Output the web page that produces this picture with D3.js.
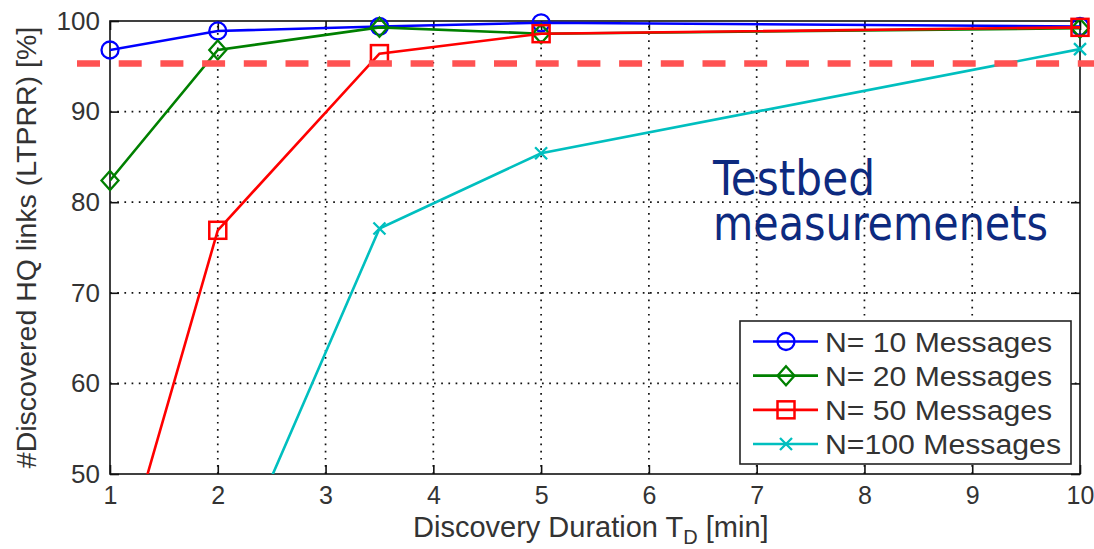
<!DOCTYPE html>
<html>
<head>
<meta charset="utf-8">
<script src="https://cdn.jsdelivr.net/npm/d3@7"></script>
<style>
  html, body { margin: 0; padding: 0; background: #fff; }
  svg { display: block; }
  text { font-family: "Liberation Sans", Arial, sans-serif; }
</style>
</head>
<body>
<svg id="chart" width="1094" height="549"></svg>
<script>
// Discovery duration (minutes) at which each run was measured
const durations = [1, 2, 3.5, 5, 10];

// Discovered high-quality links (LTPRR, %) per message count
const n10  = [96.8, 98.9, 99.4, 99.8, 99.4];
const n20  = [82.4, 96.8, 99.3, 98.6, 99.2];
const n50  = [35.6, 76.9, 96.4, 98.6, 99.3];
const n100 = [null, 36.0, 77.1, 85.4, 96.9];

const seriesNames = ["N= 10 Messages", "N= 20 Messages", "N= 50 Messages", "N=100 Messages"];
const seriesColors = ["#0000ff", "#008000", "#ff0000", "#00bfbf"];
const seriesMarkers = ["circle", "diamond", "square", "x"];

const threshold = 95.3;

const xTicks = [1, 2, 3, 4, 5, 6, 7, 8, 9, 10];
const yTicks = [50, 60, 70, 80, 90, 100];

const noteLines = ["Testbed", "measuremenets"];

const svg = d3.select("#chart");
const plot = { left: 110, top: 21, right: 1080, bottom: 474 };

const x = d3.scaleLinear().domain([1, 10]).range([plot.left, plot.right]);
const y = d3.scaleLinear().domain([50, 100]).range([plot.bottom, plot.top]);

// Clip region for the lines
svg.append("defs").append("clipPath").attr("id", "plotClip")
  .append("rect")
  .attr("x", plot.left).attr("y", plot.top)
  .attr("width", plot.right - plot.left).attr("height", plot.bottom - plot.top);

// Dotted grid
const grid = svg.append("g").attr("stroke", "#111").attr("stroke-width", 1.7)
  .attr("stroke-dasharray", "1.7,5.5");
grid.selectAll("line.gx").data(xTicks.slice(1, -1)).join("line")
  .attr("x1", d => x(d)).attr("x2", d => x(d))
  .attr("y1", plot.bottom).attr("y2", plot.top);
grid.selectAll("line.gy").data(yTicks.slice(1, -1)).join("line")
  .attr("y1", d => y(d)).attr("y2", d => y(d))
  .attr("x1", plot.left).attr("x2", plot.right);

// Axes with inward ticks on all four sides
const tickLen = 9;
const axisColor = "#111";
const bottomAxis = d3.axisBottom(x).tickValues(xTicks).tickSize(-tickLen).tickPadding(12).tickFormat(d3.format("d"));
const topAxis = d3.axisTop(x).tickValues(xTicks).tickSize(-tickLen).tickFormat("");
const leftAxis = d3.axisLeft(y).tickValues(yTicks).tickSize(-tickLen).tickPadding(10).tickFormat(d3.format("d"));
const rightAxis = d3.axisRight(y).tickValues(yTicks).tickSize(-tickLen).tickFormat("");

function styleAxis(g, size) {
  g.select(".domain").attr("stroke", axisColor).attr("stroke-width", 1.6);
  g.selectAll(".tick line").attr("stroke", axisColor).attr("stroke-width", 1.6);
  g.selectAll(".tick text").attr("fill", "#333").attr("font-size", size)
    .attr("font-family", "Liberation Sans, Arial, sans-serif");
}
svg.append("g").attr("transform", `translate(0,${plot.bottom})`).call(bottomAxis).call(styleAxis, 25);
svg.append("g").attr("transform", `translate(0,${plot.top})`).call(topAxis).call(styleAxis, 25);
svg.append("g").attr("transform", `translate(${plot.left},0)`).call(leftAxis).call(styleAxis, 26);
svg.append("g").attr("transform", `translate(${plot.right},0)`).call(rightAxis).call(styleAxis, 26);
svg.selectAll(".domain").attr("d", null);
svg.append("rect")
  .attr("x", plot.left).attr("y", plot.top)
  .attr("width", plot.right - plot.left).attr("height", plot.bottom - plot.top)
  .attr("fill", "none").attr("stroke", axisColor).attr("stroke-width", 1.6);

// Marker shapes
function drawMarker(g, kind, color, cx, cy) {
  const s = 8.5;
  if (kind === "circle") {
    g.append("circle").attr("cx", cx).attr("cy", cy).attr("r", s)
      .attr("fill", "none").attr("stroke", color).attr("stroke-width", 2.3);
  } else if (kind === "diamond") {
    g.append("path").attr("d", `M${cx},${cy - s - 1}L${cx + s},${cy}L${cx},${cy + s + 1}L${cx - s},${cy}Z`)
      .attr("fill", "none").attr("stroke", color).attr("stroke-width", 2.3);
  } else if (kind === "square") {
    g.append("rect").attr("x", cx - s).attr("y", cy - s).attr("width", 2 * s).attr("height", 2 * s)
      .attr("fill", "none").attr("stroke", color).attr("stroke-width", 2.5);
  } else {
    const h = 6;
    g.append("path").attr("d", `M${cx - h},${cy - h}L${cx + h},${cy + h}M${cx - h},${cy + h}L${cx + h},${cy - h}`)
      .attr("stroke", color).attr("stroke-width", 2.3);
  }
}

// Series lines and markers
const allSeries = [n10, n20, n50, n100];
const line = d3.line()
  .defined(d => d.v != null)
  .x(d => x(d.t)).y(d => y(d.v));

allSeries.forEach((vals, i) => {
  const pts = durations.map((t, k) => ({ t, v: vals[k] }));
  const g = svg.append("g");
  g.append("path").datum(pts)
    .attr("clip-path", "url(#plotClip)")
    .attr("d", line)
    .attr("fill", "none").attr("stroke", seriesColors[i]).attr("stroke-width", 2.6);
  pts.filter(p => p.v != null && p.v >= 50 && p.v <= 100)
    .forEach(p => drawMarker(g, seriesMarkers[i], seriesColors[i], x(p.t), y(p.v)));
});

// Target threshold line
svg.append("line")
  .attr("x1", 77).attr("x2", 1094)
  .attr("y1", y(threshold)).attr("y2", y(threshold))
  .attr("stroke", "#ff5252").attr("stroke-width", 6.5)
  .attr("stroke-dasharray", "23,18.7");

// Annotation, two lines in one text block
const noteFont = "DejaVu Sans Condensed, DejaVu Sans, sans-serif";
const note = svg.append("text").attr("x", 713).attr("y", 195)
  .attr("fill", "#0d2a7f").attr("font-size", 48).style("font-family", noteFont);
const noteWidths = [162, 335];
noteLines.forEach((t, i) => {
  note.append("tspan").attr("x", 713).attr("dy", i === 0 ? 0 : 45)
    .attr("textLength", noteWidths[i]).attr("lengthAdjust", "spacingAndGlyphs")
    .text(t);
});

// Legend
const legend = svg.append("g");
legend.append("rect")
  .attr("x", 740).attr("y", 321).attr("width", 331).attr("height", 143)
  .attr("fill", "#fff").attr("stroke", "#222").attr("stroke-width", 1.6);
const rowY = d3.scalePoint().domain(seriesNames).range([341.5, 444]);
seriesNames.forEach((name, i) => {
  const cy = rowY(name);
  legend.append("line").attr("x1", 753).attr("x2", 818).attr("y1", cy).attr("y2", cy)
    .attr("stroke", seriesColors[i]).attr("stroke-width", 2.6);
  drawMarker(legend, seriesMarkers[i], seriesColors[i], 786, cy);
  legend.append("text").attr("x", 825).attr("y", cy + 10)
    .attr("font-size", 27).attr("fill", "#333")
    .attr("textLength", i === 3 ? 236 : 227).attr("lengthAdjust", "spacingAndGlyphs")
    .text(name);
});

// Axis titles
const xTitle = svg.append("text")
  .attr("x", 413).attr("y", 537)
  .attr("font-size", 29).attr("fill", "#333");
xTitle.append("tspan").text("Discovery Duration T");
xTitle.append("tspan").attr("dy", 7).attr("font-size", 20).text("D");
xTitle.append("tspan").attr("dy", -7).text(" [min]");

svg.append("text")
  .attr("transform", `translate(36,${(25 + 470) / 2}) rotate(-90)`)
  .attr("text-anchor", "middle")
  .attr("font-size", 28.5).attr("fill", "#333")
  .text("#Discovered HQ links (LTPRR) [%]");
</script>
</body>
</html>
